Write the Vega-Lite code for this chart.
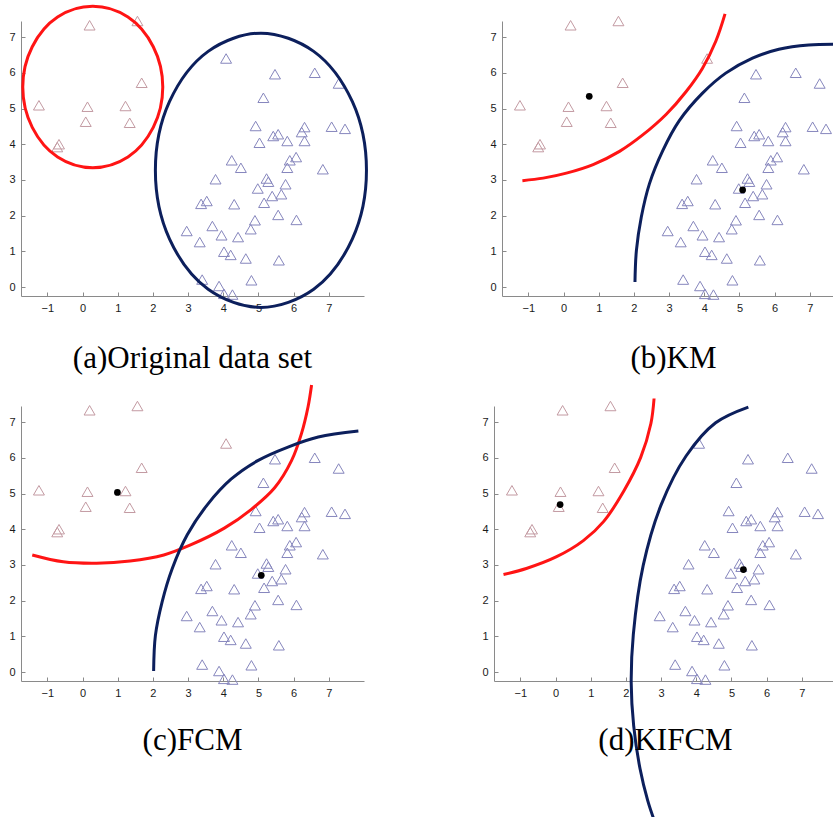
{
  "$schema": "https://vega.github.io/schema/vega-lite/v6.json",
  "padding": {"left": 8, "top": 0, "right": 0, "bottom": 0},
  "background": "white",
  "config": {
    "view": {"stroke": null},
    "axis": {"domainColor": "#8a8a8a", "tickColor": "#8a8a8a", "tickSize": -4, "labelPadding": 10, "labelFont": "Liberation Sans", "labelFontSize": 11, "labelColor": "#1a1a1a", "grid": false, "domainWidth": 1, "labelOverlap": false, "tickCount": 12, "format": "d"},
    "title": {"font": "Liberation Serif", "fontSize": 31, "fontWeight": "normal", "color": "#000000"},
    "concat": {"spacing": 116}
  },
  "datasets": {
    "pts": [
      {"x": 0.2, "y": 7.33, "a": "R", "b": "R", "c": "R", "d": "R"},
      {"x": 1.56, "y": 7.45, "a": "R", "b": "R", "c": "R", "d": "R"},
      {"x": 1.68, "y": 5.72, "a": "R", "b": "R", "c": "R", "d": "R"},
      {"x": -1.24, "y": 5.09, "a": "R", "b": "R", "c": "R", "d": "R"},
      {"x": 0.14, "y": 5.05, "a": "R", "b": "R", "c": "R", "d": "R"},
      {"x": 1.22, "y": 5.07, "a": "R", "b": "R", "c": "R", "d": "R"},
      {"x": 0.09, "y": 4.63, "a": "R", "b": "R", "c": "R", "d": "R"},
      {"x": 1.34, "y": 4.6, "a": "R", "b": "R", "c": "R", "d": "R"},
      {"x": -0.67, "y": 4.0, "a": "R", "b": "R", "c": "R", "d": "R"},
      {"x": -0.72, "y": 3.92, "a": "R", "b": "R", "c": "R", "d": "R"},
      {"x": 4.08, "y": 6.4, "a": "B", "b": "R", "c": "R", "d": "B"},
      {"x": 5.47, "y": 5.96, "a": "B", "b": "B", "c": "B", "d": "B"},
      {"x": 6.6, "y": 6.0, "a": "B", "b": "B", "c": "B", "d": "B"},
      {"x": 7.28, "y": 5.7, "a": "B", "b": "B", "c": "B", "d": "B"},
      {"x": 5.14, "y": 5.3, "a": "B", "b": "B", "c": "B", "d": "B"},
      {"x": 4.92, "y": 4.51, "a": "B", "b": "B", "c": "B", "d": "B"},
      {"x": 7.08, "y": 4.49, "a": "B", "b": "B", "c": "B", "d": "B"},
      {"x": 7.46, "y": 4.43, "a": "B", "b": "B", "c": "B", "d": "B"},
      {"x": 5.42, "y": 4.23, "a": "B", "b": "B", "c": "B", "d": "B"},
      {"x": 5.56, "y": 4.28, "a": "B", "b": "B", "c": "B", "d": "B"},
      {"x": 5.03, "y": 4.04, "a": "B", "b": "B", "c": "B", "d": "B"},
      {"x": 5.82, "y": 4.09, "a": "B", "b": "B", "c": "B", "d": "B"},
      {"x": 6.31, "y": 4.48, "a": "B", "b": "B", "c": "B", "d": "B"},
      {"x": 6.23, "y": 4.34, "a": "B", "b": "B", "c": "B", "d": "B"},
      {"x": 6.31, "y": 4.09, "a": "B", "b": "B", "c": "B", "d": "B"},
      {"x": 4.24, "y": 3.55, "a": "B", "b": "B", "c": "B", "d": "B"},
      {"x": 4.5, "y": 3.34, "a": "B", "b": "B", "c": "B", "d": "B"},
      {"x": 5.89, "y": 3.55, "a": "B", "b": "B", "c": "B", "d": "B"},
      {"x": 6.07, "y": 3.64, "a": "B", "b": "B", "c": "B", "d": "B"},
      {"x": 5.82, "y": 3.34, "a": "B", "b": "B", "c": "B", "d": "B"},
      {"x": 6.83, "y": 3.3, "a": "B", "b": "B", "c": "B", "d": "B"},
      {"x": 3.78, "y": 3.02, "a": "B", "b": "B", "c": "B", "d": "B"},
      {"x": 5.23, "y": 3.04, "a": "B", "b": "B", "c": "B", "d": "B"},
      {"x": 5.28, "y": 2.95, "a": "B", "b": "B", "c": "B", "d": "B"},
      {"x": 5.77, "y": 2.88, "a": "B", "b": "B", "c": "B", "d": "B"},
      {"x": 4.98, "y": 2.76, "a": "B", "b": "B", "c": "B", "d": "B"},
      {"x": 5.39, "y": 2.55, "a": "B", "b": "B", "c": "B", "d": "B"},
      {"x": 5.65, "y": 2.6, "a": "B", "b": "B", "c": "B", "d": "B"},
      {"x": 5.16, "y": 2.36, "a": "B", "b": "B", "c": "B", "d": "B"},
      {"x": 3.37, "y": 2.33, "a": "B", "b": "B", "c": "B", "d": "B"},
      {"x": 3.53, "y": 2.41, "a": "B", "b": "B", "c": "B", "d": "B"},
      {"x": 4.31, "y": 2.32, "a": "B", "b": "B", "c": "B", "d": "B"},
      {"x": 5.56, "y": 2.02, "a": "B", "b": "B", "c": "B", "d": "B"},
      {"x": 6.08, "y": 1.88, "a": "B", "b": "B", "c": "B", "d": "B"},
      {"x": 4.9, "y": 1.87, "a": "B", "b": "B", "c": "B", "d": "B"},
      {"x": 4.78, "y": 1.62, "a": "B", "b": "B", "c": "B", "d": "B"},
      {"x": 2.96, "y": 1.57, "a": "B", "b": "B", "c": "B", "d": "B"},
      {"x": 3.69, "y": 1.71, "a": "B", "b": "B", "c": "B", "d": "B"},
      {"x": 3.95, "y": 1.45, "a": "B", "b": "B", "c": "B", "d": "B"},
      {"x": 4.42, "y": 1.4, "a": "B", "b": "B", "c": "B", "d": "B"},
      {"x": 3.33, "y": 1.26, "a": "B", "b": "B", "c": "B", "d": "B"},
      {"x": 4.02, "y": 0.99, "a": "B", "b": "B", "c": "B", "d": "B"},
      {"x": 4.21, "y": 0.9, "a": "B", "b": "B", "c": "B", "d": "B"},
      {"x": 4.64, "y": 0.8, "a": "B", "b": "B", "c": "B", "d": "B"},
      {"x": 5.58, "y": 0.75, "a": "B", "b": "B", "c": "B", "d": "B"},
      {"x": 3.4, "y": 0.21, "a": "B", "b": "B", "c": "B", "d": "B"},
      {"x": 3.88, "y": 0.03, "a": "B", "b": "B", "c": "B", "d": "B"},
      {"x": 4.8, "y": 0.19, "a": "B", "b": "B", "c": "B", "d": "B"},
      {"x": 4.02, "y": -0.19, "a": "B", "b": "B", "c": "B", "d": "B"},
      {"x": 4.26, "y": -0.21, "a": "B", "b": "B", "c": "B", "d": "B"}
    ],
    "curves": [
      {"p": "a", "k": "R", "i": 0, "x": 2.28, "y": 5.6},
      {"p": "a", "k": "R", "i": 1, "x": 2.01, "y": 6.73},
      {"p": "a", "k": "R", "i": 2, "x": 1.29, "y": 7.56},
      {"p": "a", "k": "R", "i": 3, "x": 0.29, "y": 7.86},
      {"p": "a", "k": "R", "i": 4, "x": -0.71, "y": 7.56},
      {"p": "a", "k": "R", "i": 5, "x": -1.43, "y": 6.73},
      {"p": "a", "k": "R", "i": 6, "x": -1.7, "y": 5.6},
      {"p": "a", "k": "R", "i": 7, "x": -1.43, "y": 4.47},
      {"p": "a", "k": "R", "i": 8, "x": -0.71, "y": 3.64},
      {"p": "a", "k": "R", "i": 9, "x": 0.29, "y": 3.34},
      {"p": "a", "k": "R", "i": 10, "x": 1.29, "y": 3.64},
      {"p": "a", "k": "R", "i": 11, "x": 2.01, "y": 4.47},
      {"p": "a", "k": "B", "i": 0, "x": 8.07, "y": 3.27},
      {"p": "a", "k": "B", "i": 1, "x": 7.67, "y": 5.19},
      {"p": "a", "k": "B", "i": 2, "x": 6.57, "y": 6.6},
      {"p": "a", "k": "B", "i": 3, "x": 5.07, "y": 7.11},
      {"p": "a", "k": "B", "i": 4, "x": 3.57, "y": 6.6},
      {"p": "a", "k": "B", "i": 5, "x": 2.47, "y": 5.19},
      {"p": "a", "k": "B", "i": 6, "x": 2.07, "y": 3.27},
      {"p": "a", "k": "B", "i": 7, "x": 2.47, "y": 1.35},
      {"p": "a", "k": "B", "i": 8, "x": 3.57, "y": -0.06},
      {"p": "a", "k": "B", "i": 9, "x": 5.07, "y": -0.57},
      {"p": "a", "k": "B", "i": 10, "x": 6.57, "y": -0.06},
      {"p": "a", "k": "B", "i": 11, "x": 7.67, "y": 1.35},

      {"p": "b", "k": "R", "i": 0, "x": -1.17, "y": 2.98},
      {"p": "b", "k": "R", "i": 1, "x": -0.58, "y": 3.05},
      {"p": "b", "k": "R", "i": 2, "x": 0.08, "y": 3.19},
      {"p": "b", "k": "R", "i": 3, "x": 0.84, "y": 3.43},
      {"p": "b", "k": "R", "i": 4, "x": 1.59, "y": 3.8},
      {"p": "b", "k": "R", "i": 5, "x": 2.25, "y": 4.26},
      {"p": "b", "k": "R", "i": 6, "x": 2.92, "y": 4.84},
      {"p": "b", "k": "R", "i": 7, "x": 3.48, "y": 5.47},
      {"p": "b", "k": "R", "i": 8, "x": 3.95, "y": 6.13},
      {"p": "b", "k": "R", "i": 9, "x": 4.33, "y": 6.89},
      {"p": "b", "k": "R", "i": 10, "x": 4.59, "y": 7.65},
      {"p": "b", "k": "B", "i": 0, "x": 2.03, "y": 0.14},
      {"p": "b", "k": "B", "i": 1, "x": 2.07, "y": 1.02},
      {"p": "b", "k": "B", "i": 2, "x": 2.21, "y": 1.96},
      {"p": "b", "k": "B", "i": 3, "x": 2.44, "y": 2.89},
      {"p": "b", "k": "B", "i": 4, "x": 2.82, "y": 3.82},
      {"p": "b", "k": "B", "i": 5, "x": 3.29, "y": 4.66},
      {"p": "b", "k": "B", "i": 6, "x": 3.95, "y": 5.43},
      {"p": "b", "k": "B", "i": 7, "x": 4.61, "y": 5.99},
      {"p": "b", "k": "B", "i": 8, "x": 5.37, "y": 6.41},
      {"p": "b", "k": "B", "i": 9, "x": 6.12, "y": 6.66},
      {"p": "b", "k": "B", "i": 10, "x": 6.97, "y": 6.78},
      {"p": "b", "k": "B", "i": 11, "x": 7.9, "y": 6.8},

      {"p": "c", "k": "R", "i": 0, "x": -1.43, "y": 3.28},
      {"p": "c", "k": "R", "i": 1, "x": -0.55, "y": 3.09},
      {"p": "c", "k": "R", "i": 2, "x": 0.4, "y": 3.05},
      {"p": "c", "k": "R", "i": 3, "x": 1.35, "y": 3.11},
      {"p": "c", "k": "R", "i": 4, "x": 2.31, "y": 3.28},
      {"p": "c", "k": "R", "i": 5, "x": 3.07, "y": 3.56},
      {"p": "c", "k": "R", "i": 6, "x": 4.03, "y": 4.03},
      {"p": "c", "k": "R", "i": 7, "x": 4.79, "y": 4.55},
      {"p": "c", "k": "R", "i": 8, "x": 5.46, "y": 5.16},
      {"p": "c", "k": "R", "i": 9, "x": 5.94, "y": 5.92},
      {"p": "c", "k": "R", "i": 10, "x": 6.22, "y": 6.67},
      {"p": "c", "k": "R", "i": 11, "x": 6.41, "y": 7.43},
      {"p": "c", "k": "R", "i": 12, "x": 6.51, "y": 8.04},
      {"p": "c", "k": "B", "i": 0, "x": 2.02, "y": 0.03},
      {"p": "c", "k": "B", "i": 1, "x": 2.07, "y": 1.02},
      {"p": "c", "k": "B", "i": 2, "x": 2.26, "y": 1.96},
      {"p": "c", "k": "B", "i": 3, "x": 2.55, "y": 2.9},
      {"p": "c", "k": "B", "i": 4, "x": 2.98, "y": 3.85},
      {"p": "c", "k": "B", "i": 5, "x": 3.55, "y": 4.69},
      {"p": "c", "k": "B", "i": 6, "x": 4.22, "y": 5.4},
      {"p": "c", "k": "B", "i": 7, "x": 4.98, "y": 5.92},
      {"p": "c", "k": "B", "i": 8, "x": 5.84, "y": 6.3},
      {"p": "c", "k": "B", "i": 9, "x": 6.7, "y": 6.58},
      {"p": "c", "k": "B", "i": 10, "x": 7.84, "y": 6.75},

      {"p": "d", "k": "R", "i": 0, "x": -1.48, "y": 2.73},
      {"p": "d", "k": "R", "i": 1, "x": -0.83, "y": 2.9},
      {"p": "d", "k": "R", "i": 2, "x": 0.03, "y": 3.23},
      {"p": "d", "k": "R", "i": 3, "x": 0.79, "y": 3.68},
      {"p": "d", "k": "R", "i": 4, "x": 1.37, "y": 4.22},
      {"p": "d", "k": "R", "i": 5, "x": 1.94, "y": 5.07},
      {"p": "d", "k": "R", "i": 6, "x": 2.42, "y": 6.01},
      {"p": "d", "k": "R", "i": 7, "x": 2.71, "y": 6.96},
      {"p": "d", "k": "R", "i": 8, "x": 2.8, "y": 7.66},
      {"p": "d", "k": "B", "i": 0, "x": 5.48, "y": 7.42},
      {"p": "d", "k": "B", "i": 1, "x": 4.55, "y": 6.98},
      {"p": "d", "k": "B", "i": 2, "x": 3.71, "y": 6.05},
      {"p": "d", "k": "B", "i": 3, "x": 3.0, "y": 4.68},
      {"p": "d", "k": "B", "i": 4, "x": 2.49, "y": 2.98},
      {"p": "d", "k": "B", "i": 5, "x": 2.21, "y": 1.05},
      {"p": "d", "k": "B", "i": 6, "x": 2.15, "y": -0.3},
      {"p": "d", "k": "B", "i": 7, "x": 2.22, "y": -1.5},
      {"p": "d", "k": "B", "i": 8, "x": 2.4, "y": -2.7},
      {"p": "d", "k": "B", "i": 9, "x": 2.62, "y": -3.6},
      {"p": "d", "k": "B", "i": 10, "x": 2.8, "y": -4.14}
    ],
    "cent": [
      {"p": "b", "x": 0.73, "y": 5.34},
      {"p": "b", "x": 5.09, "y": 2.72},
      {"p": "c", "x": 0.99, "y": 5.03},
      {"p": "c", "x": 5.08, "y": 2.71},
      {"p": "d", "x": 0.13, "y": 4.69},
      {"p": "d", "x": 5.34, "y": 2.87}
    ]
  },
  "vconcat": [
    {
      "hconcat": [
        {
          "width": 343, "height": 275,
          "title": {"text": "(a)Original data set", "orient": "bottom", "frame": "group", "anchor": "middle", "offset": 31},
          "resolve": {"scale": {"color": "independent"}},
          "layer": [
            {"data": {"name": "pts"}, "mark": {"type": "point", "shape": "triangle-up", "size": 120, "strokeWidth": 1, "opacity": 1},
             "encoding": {
               "x": {"field": "x", "type": "quantitative", "scale": {"domain": [-1.75, 8], "nice": false, "zero": false}, "axis": {"values": [-1,0,1,2,3,4,5,6,7], "title": null, "tickCount": 12, "format": "d"}},
               "y": {"field": "y", "type": "quantitative", "scale": {"domain": [-0.25, 7.45], "nice": false, "zero": false}, "axis": {"values": [0,1,2,3,4,5,6,7], "title": null, "tickCount": 12, "format": "d"}},
               "color": {"field": "a", "type": "nominal", "scale": {"domain": ["R","B"], "range": ["#c39aa2","#8686bd"]}, "legend": null}}},
            {"data": {"name": "curves"}, "transform": [{"filter": "datum.p === 'a'"}], "mark": {"type": "line", "interpolate": "catmull-rom-closed", "strokeWidth": 3},
             "encoding": {
               "x": {"field": "x", "type": "quantitative"},
               "y": {"field": "y", "type": "quantitative"},
               "color": {"field": "k", "type": "nominal", "scale": {"domain": ["R","B"], "range": ["#ff1414","#0c1f5c"]}, "legend": null},
               "order": {"field": "i", "type": "quantitative"}}}
          ]
        },
        {
          "width": 343, "height": 275,
          "title": {"text": "(b)KM", "orient": "bottom", "frame": "group", "anchor": "middle", "offset": 31},
          "resolve": {"scale": {"color": "independent"}},
          "layer": [
            {"data": {"name": "pts"}, "mark": {"type": "point", "shape": "triangle-up", "size": 120, "strokeWidth": 1, "opacity": 1},
             "encoding": {
               "x": {"field": "x", "type": "quantitative", "scale": {"domain": [-1.75, 8], "nice": false, "zero": false}, "axis": {"values": [-1,0,1,2,3,4,5,6,7], "title": null, "tickCount": 12, "format": "d"}},
               "y": {"field": "y", "type": "quantitative", "scale": {"domain": [-0.25, 7.45], "nice": false, "zero": false}, "axis": {"values": [0,1,2,3,4,5,6,7], "title": null, "tickCount": 12, "format": "d"}},
               "color": {"field": "b", "type": "nominal", "scale": {"domain": ["R","B"], "range": ["#c39aa2","#8686bd"]}, "legend": null}}},
            {"data": {"name": "curves"}, "transform": [{"filter": "datum.p === 'b'"}], "mark": {"type": "line", "interpolate": "catmull-rom", "strokeWidth": 3},
             "encoding": {
               "x": {"field": "x", "type": "quantitative"},
               "y": {"field": "y", "type": "quantitative"},
               "color": {"field": "k", "type": "nominal", "scale": {"domain": ["R","B"], "range": ["#ff1414","#0c1f5c"]}, "legend": null},
               "order": {"field": "i", "type": "quantitative"}}},
            {"data": {"name": "cent"}, "transform": [{"filter": "datum.p === 'b'"}], "mark": {"type": "circle", "size": 45, "color": "#000000", "opacity": 1},
             "encoding": {"x": {"field": "x", "type": "quantitative"}, "y": {"field": "y", "type": "quantitative"}}}
          ]
        }
      ]
    },
    {
      "hconcat": [
        {
          "width": 343, "height": 275,
          "title": {"text": "(c)FCM", "orient": "bottom", "frame": "group", "anchor": "middle", "offset": 28},
          "resolve": {"scale": {"color": "independent"}},
          "layer": [
            {"data": {"name": "pts"}, "mark": {"type": "point", "shape": "triangle-up", "size": 120, "strokeWidth": 1, "opacity": 1},
             "encoding": {
               "x": {"field": "x", "type": "quantitative", "scale": {"domain": [-1.75, 8], "nice": false, "zero": false}, "axis": {"values": [-1,0,1,2,3,4,5,6,7], "title": null, "tickCount": 12, "format": "d"}},
               "y": {"field": "y", "type": "quantitative", "scale": {"domain": [-0.25, 7.45], "nice": false, "zero": false}, "axis": {"values": [0,1,2,3,4,5,6,7], "title": null, "tickCount": 12, "format": "d"}},
               "color": {"field": "c", "type": "nominal", "scale": {"domain": ["R","B"], "range": ["#c39aa2","#8686bd"]}, "legend": null}}},
            {"data": {"name": "curves"}, "transform": [{"filter": "datum.p === 'c'"}], "mark": {"type": "line", "interpolate": "catmull-rom", "strokeWidth": 3},
             "encoding": {
               "x": {"field": "x", "type": "quantitative"},
               "y": {"field": "y", "type": "quantitative"},
               "color": {"field": "k", "type": "nominal", "scale": {"domain": ["R","B"], "range": ["#ff1414","#0c1f5c"]}, "legend": null},
               "order": {"field": "i", "type": "quantitative"}}},
            {"data": {"name": "cent"}, "transform": [{"filter": "datum.p === 'c'"}], "mark": {"type": "circle", "size": 45, "color": "#000000", "opacity": 1},
             "encoding": {"x": {"field": "x", "type": "quantitative"}, "y": {"field": "y", "type": "quantitative"}}}
          ]
        },
        {
          "width": 343, "height": 275,
          "title": {"text": "(d)KIFCM", "orient": "bottom", "frame": "group", "anchor": "middle", "offset": -100},
          "resolve": {"scale": {"color": "independent"}},
          "layer": [
            {"data": {"name": "pts"}, "mark": {"type": "point", "shape": "triangle-up", "size": 120, "strokeWidth": 1, "opacity": 1},
             "encoding": {
               "x": {"field": "x", "type": "quantitative", "scale": {"domain": [-1.75, 8], "nice": false, "zero": false}, "axis": {"values": [-1,0,1,2,3,4,5,6,7], "title": null, "tickCount": 12, "format": "d"}},
               "y": {"field": "y", "type": "quantitative", "scale": {"domain": [-0.25, 7.45], "nice": false, "zero": false}, "axis": {"values": [0,1,2,3,4,5,6,7], "title": null, "tickCount": 12, "format": "d"}},
               "color": {"field": "d", "type": "nominal", "scale": {"domain": ["R","B"], "range": ["#c39aa2","#8686bd"]}, "legend": null}}},
            {"data": {"name": "curves"}, "transform": [{"filter": "datum.p === 'd'"}], "mark": {"type": "line", "interpolate": "catmull-rom", "strokeWidth": 3},
             "encoding": {
               "x": {"field": "x", "type": "quantitative"},
               "y": {"field": "y", "type": "quantitative"},
               "color": {"field": "k", "type": "nominal", "scale": {"domain": ["R","B"], "range": ["#ff1414","#0c1f5c"]}, "legend": null},
               "order": {"field": "i", "type": "quantitative"}}},
            {"data": {"name": "cent"}, "transform": [{"filter": "datum.p === 'd'"}], "mark": {"type": "circle", "size": 45, "color": "#000000", "opacity": 1},
             "encoding": {"x": {"field": "x", "type": "quantitative"}, "y": {"field": "y", "type": "quantitative"}}}
          ]
        }
      ]
    }
  ],
  "spacing": 3
}
